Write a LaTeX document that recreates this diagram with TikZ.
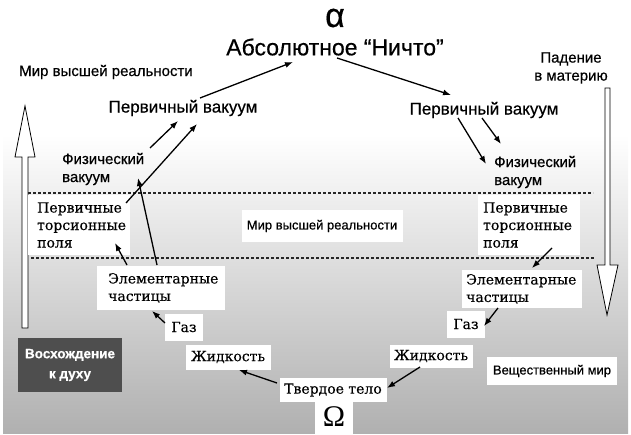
\documentclass[tikz,border=0pt]{standalone}
\usepackage{fontspec}
\setsansfont{Liberation Sans}[FakeBold=0.5]
\newfontfamily\bk{DejaVu Serif}[FakeBold=0.3]
\newfontfamily\tms{Liberation Serif}
\usetikzlibrary{arrows.meta}
\definecolor{bgdark}{HTML}{B0B0B0}
\definecolor{boxdark}{HTML}{4E4E4E}
\tikzset{
  sanslbl/.style={font=\sffamily\fontsize{15}{18}\selectfont, inner sep=1pt},
  serlbl/.style={font=\bk\fontsize{14}{17.5}\selectfont, inner sep=1pt},
  wbox/.style={fill=white, inner sep=0pt},
  arr/.style={line width=1.3pt, -{Latex[length=8pt,width=6pt]}},
  dline/.style={line width=1.2pt, dash pattern=on 3pt off 2pt, draw=black!85},
  hollow/.style={draw=black, line width=0.8pt, fill=white},
}
\begin{document}
\begin{tikzpicture}[x=1pt,y=-1pt]
\useasboundingbox (0,0) rectangle (631,435);
% background
\shade[top color=white, bottom color=bgdark] (3,135) rectangle (628,433);
% dashed lines
\coordinate (d1a) at (28,193); \coordinate (d1b) at (593,193);
\coordinate (d2a) at (31,258); \coordinate (d2b) at (595,258);
\draw[dline] (d1a) -- (d1b);
\draw[dline] (d2a) -- (d2b);
% hollow arrows
\draw[hollow] (22,328) -- (22,157) -- (15,157) -- (25,106) -- (35,157) -- (28,157) -- (28,328) -- cycle;
\draw[hollow] (605,88) -- (605,265) -- (597,265) -- (607,315) -- (618,265) -- (610,265) -- (610,88) -- cycle;
% top texts
\node[font=\sffamily\fontsize{34}{34}\selectfont, inner sep=0pt] (alpha) at (335,18) {α};
\node[font=\sffamily\fontsize{23}{25}\selectfont, inner sep=1pt] (abs) at (335,47) {Абсолютное “Ничто”};
\node[sanslbl] (mir1) at (106,72) {Мир высшей реальности};
\node[sanslbl, align=center] (pad) at (571,68) {Падение\\в материю};
\node[sanslbl, font=\sffamily\fontsize{17}{20}\selectfont] (pv1) at (183,108) {Первичный вакуум};
\node[sanslbl, font=\sffamily\fontsize{17}{20}\selectfont] (pv2) at (484,110) {Первичный вакуум};
\node[sanslbl, align=left, anchor=west] (fv1) at (61,169) {Физический\\вакуум};
\node[sanslbl, align=left, anchor=west] (fv2) at (493,172) {Физический\\вакуум};
% white boxes
\node[wbox, minimum width=102pt, minimum height=60pt] (tp1b) at (79,225) {};
\node[serlbl, align=left, anchor=west] (tp1) at (36,225) {Первичные\\торсионные\\поля};
\node[wbox, minimum width=102pt, minimum height=60pt] (tp2b) at (529,225) {};
\node[serlbl, align=left, anchor=west] (tp2) at (482,225) {Первичные\\торсионные\\поля};
\node[wbox, minimum width=161pt, minimum height=32pt, sanslbl, font=\sffamily\fontsize{13}{16}\selectfont] (mir2) at (322,226) {Мир высшей реальности};
\node[wbox, minimum width=128pt, minimum height=43pt] (el1b) at (161,288) {};
\node[serlbl, align=left, anchor=west] (el1) at (107,288) {Элементарные\\частицы};
\node[wbox, minimum width=120pt, minimum height=38pt] (el2b) at (522,289) {};
\node[serlbl, align=left, anchor=west] (el2) at (465,289) {Элементарные\\частицы};
\node[wbox, serlbl, minimum width=38pt, minimum height=27pt] (gaz1) at (184,327) {Газ};
\node[wbox, serlbl, minimum width=38pt, minimum height=27pt] (gaz2) at (466,324) {Газ};
\node[wbox, serlbl, minimum width=85pt, minimum height=25pt] (zh1) at (228,357) {Жидкость};
\node[wbox, serlbl, minimum width=83pt, minimum height=23pt] (zh2) at (431,356) {Жидкость};
\node[wbox, minimum width=38pt, minimum height=33pt] (omb) at (334,418) {};
\node[wbox, serlbl, minimum width=107pt, minimum height=24pt] (tv) at (333,390) {Твердое тело};
\node[font=\tms\fontsize{30}{30}\selectfont, inner sep=0pt] (om) at (334,417) {Ω};
\node[wbox, sanslbl, font=\sffamily\fontsize{13}{16}\selectfont, minimum width=130pt, minimum height=28pt] (vesh) at (552,371) {Вещественный мир};
\node[fill=boxdark, text=white, font=\sffamily\bfseries\fontsize{13.5}{20}\selectfont, align=center, minimum width=104pt, minimum height=54pt, inner sep=0pt] (vosh) at (70,365) {Восхождение\\к духу};
% arrows left
\coordinate (a1s) at (200,98); \coordinate (a1e) at (293,62);
\draw[arr] (a1s) -- (a1e);
\coordinate (a2s) at (150,148); \coordinate (a2e) at (178,121);
\draw[arr] (a2s) -- (a2e);
\coordinate (a3s) at (126,203); \coordinate (a3e) at (197,124);
\draw[arr] (a3s) -- (a3e);
\coordinate (a4s) at (157,265); \coordinate (a4e) at (138,178);
\draw[arr] (a4s) -- (a4e);
\coordinate (a5s) at (127,265); \coordinate (a5e) at (115,243);
\draw[arr] (a5s) -- (a5e);
\coordinate (a6s) at (165,323); \coordinate (a6e) at (152,311);
\draw[arr] (a6s) -- (a6e);
\coordinate (a7s) at (277,383); \coordinate (a7e) at (239,370);
\draw[arr] (a7s) -- (a7e);
% arrows right
\coordinate (b1s) at (337,58); \coordinate (b1e) at (451,95);
\draw[arr] (b1s) -- (b1e);
\coordinate (b2s) at (482,118); \coordinate (b2e) at (501,144);
\draw[arr] (b2s) -- (b2e);
\coordinate (b3s) at (458,118); \coordinate (b3e) at (486,164);
\draw[arr] (b3s) -- (b3e);
\coordinate (b4s) at (552,248); \coordinate (b4e) at (532,268);
\draw[arr] (b4s) -- (b4e);
\coordinate (b5s) at (498,308); \coordinate (b5e) at (484,326);
\draw[arr] (b5s) -- (b5e);
\coordinate (b6s) at (420,367); \coordinate (b6e) at (387,388);
\draw[arr] (b6s) -- (b6e);
\end{tikzpicture}
\end{document}
